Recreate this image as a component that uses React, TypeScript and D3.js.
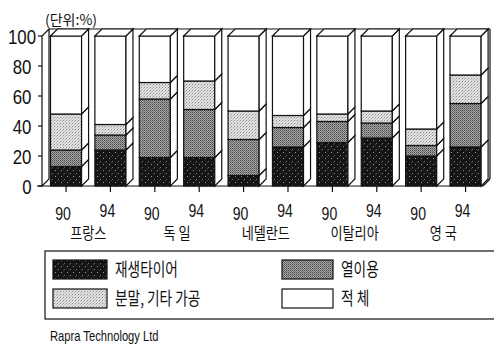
import * as React from "react";
import * as d3 from "d3";

// 연도 / 국가
const years = ["90", "94", "90", "94", "90", "94", "90", "94", "90", "94"];
const countries = ["프랑스", "독 일", "네델란드", "이탈리아", "영 국"];

// 각 막대의 구성비 (%), 아래에서 위로
const retread = [13, 24, 19, 19, 7, 26, 29, 32, 20, 26]; // 재생타이어
const heatUse = [11, 10, 39, 32, 24, 13, 14, 10, 7, 29]; // 열이용
const powder = [24, 7, 11, 19, 19, 8, 5, 8, 11, 19]; // 분말, 기타 가공
const stockpile = [52, 59, 31, 30, 50, 53, 52, 50, 62, 26]; // 적 체

const yTicks = [0, 20, 40, 60, 80, 100];
const seriesKeys = ["retread", "heatUse", "powder", "stockpile"];
const seriesNames = ["재생타이어", "열이용", "분말, 기타 가공", "적 체"];

const W = 494;
const H = 345;
const base = 186;
const top = 36;
const dx = 7;
const dy = 7;
const latin = "'Liberation Sans', Arial, sans-serif";
const kr = "'Noto Sans CJK KR', 'Noto Sans', sans-serif";

const fills: Record<string, string> = {
  retread: "url(#pBlack)",
  heatUse: "url(#pDark)",
  powder: "url(#pLight)",
  stockpile: "#fff",
};

// 좁은 글꼴 흉내: 가로로만 줄인 텍스트
const Squeezed = ({ x, y, sx, size, family, anchor = "start", children }: any) => (
  <g transform={`translate(${x},${y}) scale(${sx},1)`}>
    <text textAnchor={anchor} fontFamily={family} fontSize={size} fill="#111">
      {children}
    </text>
  </g>
);

export default function App() {
  const categories = years.map((y, i) => `${countries[Math.floor(i / 2)]} ${y}`);
  const rows = categories.map((c, i) => ({
    cat: c,
    retread: retread[i],
    heatUse: heatUse[i],
    powder: powder[i],
    stockpile: stockpile[i],
  }));
  const stacked = d3.stack<any>().keys(seriesKeys)(rows);

  const x = d3.scaleBand().domain(categories).range([50.5, 481.1]).paddingInner(0.3).paddingOuter(0);
  const y = d3.scaleLinear().domain([0, 100]).range([base, top]);
  const bw = x.bandwidth();
  const axisX = 42;
  const wallRight = 490;

  const stroke = "#111";
  const sw = 1.2;

  return (
    <svg width={W} height={H} style={{ position: "absolute", left: 0, top: 0, background: "#fff" }}>
      <defs>
        <pattern id="pBlack" width="6" height="6" patternUnits="userSpaceOnUse">
          <rect width="6" height="6" fill="#151515" />
          <rect x="1" y="2" width="1" height="1" fill="#9a9a9a" />
          <rect x="4" y="5" width="1" height="1" fill="#6e6e6e" />
          <rect x="3" y="0" width="1" height="1" fill="#444" />
        </pattern>
        <pattern id="pDark" width="2" height="2" patternUnits="userSpaceOnUse">
          <rect width="2" height="2" fill="#a6a6a6" />
          <rect x="0" y="0" width="1" height="1" fill="#4a4a4a" />
          <rect x="1" y="1" width="1" height="1" fill="#707070" />
        </pattern>
        <pattern id="pLight" width="3" height="3" patternUnits="userSpaceOnUse">
          <rect width="3" height="3" fill="#e2e2e2" />
          <rect x="0" y="0" width="1" height="1" fill="#8c8c8c" />
          <rect x="2" y="1" width="1" height="1" fill="#b4b4b4" />
          <rect x="1" y="2" width="1" height="1" fill="#c4c4c4" />
        </pattern>
      </defs>

      {/* 단위 */}
      <text x={45} y={25} fontFamily={kr} fontSize={14} fill="#111">(단위:%)</text>

      {/* 뒷벽 / 옆벽 */}
      <g fill="none" stroke={stroke} strokeWidth={sw}>
        <polygon points={`${axisX},${base} ${axisX},${top} ${axisX + dx},${top - dy} ${axisX + dx},${base - dy}`} fill="#fff" />
        <line x1={axisX + dx} y1={top - dy} x2={wallRight} y2={top - dy} />
        <line x1={wallRight} y1={top - dy} x2={wallRight} y2={base - dy} />
        <line x1={wallRight} y1={base - dy} x2={wallRight - dx} y2={base} />
        <line x1={axisX - 5} y1={base} x2={wallRight - dx} y2={base} />
      </g>

      {/* y축 */}
      {yTicks.map((t) => (
        <g key={t}>
          <line x1={axisX - 4} x2={axisX} y1={y(t)} y2={y(t)} stroke={stroke} strokeWidth={sw} />
          <Squeezed x={t === 0 ? 27 : 22} y={y(t) + 8} sx={0.8} size={21} family={latin} anchor="middle">
            {t}
          </Squeezed>
        </g>
      ))}

      {/* 막대 */}
      {categories.map((c, i) => {
        const x0 = x(c)!;
        const xr = x0 + bw;
        return (
          <g key={c}>
            {stacked.map((s) => {
              const d = s[i];
              const y0 = y(d[0]);
              const y1 = y(d[1]);
              return (
                <g key={s.key}>
                  <rect x={x0} y={y1} width={bw} height={y0 - y1} fill={fills[s.key]} stroke={stroke} strokeWidth={sw} />
                  <polygon
                    points={`${xr},${y1} ${xr + dx},${y1 - dy} ${xr + dx},${y0 - dy} ${xr},${y0}`}
                    fill="#fff"
                    stroke={stroke}
                    strokeWidth={sw}
                  />
                </g>
              );
            })}
            <polygon
              points={`${x0},${y(100)} ${x0 + dx},${y(100) - dy} ${xr + dx},${y(100) - dy} ${xr},${y(100)}`}
              fill="#fff"
              stroke={stroke}
              strokeWidth={sw}
            />
            <line x1={x0 + bw / 2} x2={x0 + bw / 2} y1={base} y2={base + 6} stroke={stroke} strokeWidth={sw} />
            <Squeezed
              x={x0 + bw / 2 - 3}
              y={base + (i % 2 === 0 ? 34 : 31)}
              sx={0.74}
              size={19}
              family={latin}
              anchor="middle"
            >
              {years[i]}
            </Squeezed>
          </g>
        );
      })}

      {/* 국가명 */}
      {countries.map((name, k) => {
        const cx = (x(categories[2 * k])! + x(categories[2 * k + 1])! + bw) / 2;
        return (
          <Squeezed key={name} x={cx} y={base + 53} sx={0.82} size={16} family={kr} anchor="middle">
            {name}
          </Squeezed>
        );
      })}

      {/* 범례 */}
      <g>
        <rect x={45} y={251} width={W} height={68} fill="none" stroke={stroke} strokeWidth={sw} />
        {seriesKeys.map((k, i) => {
          const col = i === 0 || i === 2 ? 0 : 1;
          const row = i < 2 ? 0 : 1;
          const lx = col === 0 ? 53 : 282;
          const ly = row === 0 ? 260 : 289;
          const lw = col === 0 ? 54 : 51;
          return (
            <g key={k}>
              <rect x={lx} y={ly} width={lw} height={19} fill={fills[k]} stroke={stroke} strokeWidth={sw} />
              <Squeezed x={lx + lw + 8} y={ly + 16} sx={0.76} size={18} family={kr}>
                {seriesNames[i]}
              </Squeezed>
            </g>
          );
        })}
      </g>

      <Squeezed x={50} y={341} sx={0.8} size={14} family={latin}>
        Rapra Technology Ltd
      </Squeezed>
    </svg>
  );
}
